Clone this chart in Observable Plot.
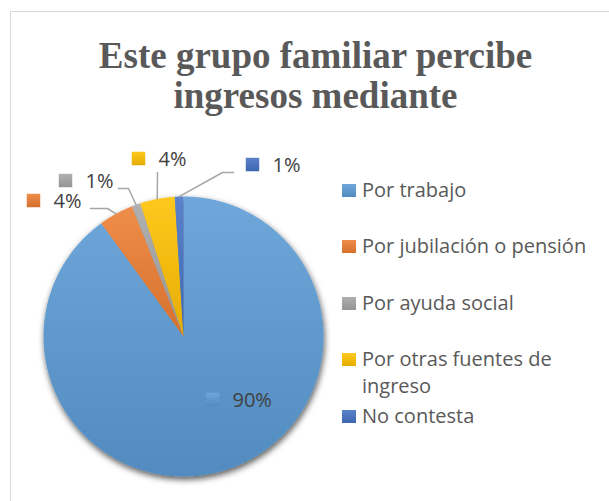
<!DOCTYPE html>
<html>
<head>
<meta charset="utf-8">
<script src="https://cdn.jsdelivr.net/npm/d3@7"></script>
<script src="https://cdn.jsdelivr.net/npm/@observablehq/plot@0.6"></script>
<style>
html, body { margin: 0; padding: 0; background: #fff; overflow: hidden; }
#wrap { position: relative; width: 609px; height: 501px; overflow: hidden; background: #fff; }
#frame { position: absolute; left: 10px; top: 11px; width: 700px; height: 600px; border: 1.5px solid #d9d9d9; }
#chart { position: absolute; left: 0; top: 0; }
#title { position: absolute; left: 0; width: 631px; top: 36px; text-align: center;
  font-family: "Liberation Serif", "DejaVu Serif", serif; font-weight: bold; font-size: 37px;
  line-height: 40px; color: #595959; }
#legend { position: absolute; left: 342px; top: 0; width: 267px; height: 501px;
  font-family: "Open Sans", sans-serif; font-size: 20px; color: #595959; }
.row { position: absolute; left: 0; width: 263px; line-height: 27px; }
.row .key { position: absolute; left: 0; top: 8px; width: 14px; height: 13px; }
.row .lab { margin-left: 20px; }
</style>
</head>
<body>
<div id="wrap">
  <div id="frame"></div>
  <div id="chart"></div>
  <div id="title">Este grupo familiar percibe<br>ingresos mediante</div>
  <div id="legend"></div>
</div>
<script>
// ---- data ----
const categories = ["Por trabajo", "Por jubilación o pensión", "Por ayuda social", "Por otras fuentes de ingreso", "No contesta"];
const percents = [90, 4, 1, 4, 1];
const colors = ["#5b9bd5", "#ed7d31", "#a5a5a5", "#ffc000", "#4472c4"];

// ---- layout (pixels) ----
const W = 609, H = 501, R = 140, CX = 183, CY = 336;
const labelStartPx = [[232, 400], [53, 201], [85, 181], [158, 159], [272, 165]];
const leaderPx = [null, [90, 208, 107, 208], [118, 188, 128, 188], [157, 172, 157, 172], [233, 172, 222, 172]];
const ux = px => (px - CX) / R;
const uy = py => (CY - py) / R;

const arcs = d3.pie().sort(null).value(d => d)(percents);

// slice outlines in pie-radius units (y up), angles clockwise from 12 o'clock
const slicePts = [];
arcs.forEach((a, i) => {
  slicePts.push({cat: categories[i], x: 0, y: 0});
  const n = Math.max(2, Math.ceil((a.endAngle - a.startAngle) / (Math.PI / 360)));
  for (let k = 0; k <= n; k++) {
    const t = a.startAngle + (a.endAngle - a.startAngle) * k / n;
    slicePts.push({cat: categories[i], x: Math.sin(t), y: Math.cos(t)});
  }
});

const total = d3.sum(percents);
const labels = arcs.map((a, i) => ({
  cat: categories[i],
  text: Math.round(percents[i] / total * 100) + "%",
  x: ux(labelStartPx[i][0]),
  y: uy(labelStartPx[i][1])
}));

const leaderPts = [];
arcs.forEach((a, i) => {
  const L = leaderPx[i];
  if (!L) return;
  const mid = (a.startAngle + a.endAngle) / 2;
  leaderPts.push({cat: categories[i], x: ux(L[0]), y: uy(L[1])});
  leaderPts.push({cat: categories[i], x: ux(L[2]), y: uy(L[3])});
  leaderPts.push({cat: categories[i], x: Math.sin(mid), y: Math.cos(mid)});
});

const chart = Plot.plot({
  width: W, height: H,
  margin: 0,
  x: {domain: [ux(0), ux(W)], axis: null},
  y: {domain: [uy(H), uy(0)], axis: null},
  color: {domain: categories, range: colors},
  style: {background: "transparent", fontFamily: "Open Sans, sans-serif", overflow: "visible"},
  marks: [
    Plot.line(slicePts, {x: "x", y: "y", z: "cat", fill: "cat", stroke: "none", curve: "linear-closed"}),
    Plot.line(leaderPts, {x: "x", y: "y", z: "cat", stroke: "#a6a6a6", strokeWidth: 1.5}),
    Plot.dot(labels, {x: "x", y: "y", dx: -20, dy: -1, symbol: "square", r: 7.6, fill: "cat", stroke: "none"}),
    Plot.text(labels, {x: "x", y: "y", text: "text", textAnchor: "start", fill: "#404040", fontSize: 20})
  ]
});

// gradients + shadow
const ns = "http://www.w3.org/2000/svg";
const defs = document.createElementNS(ns, "defs");
const light = c => d3.interpolateRgb(c, "#fff")(0.12);
const dark = c => d3.color(c).darker(0.3).formatHex();
colors.forEach((c, i) => {
  const lg = document.createElementNS(ns, "linearGradient");
  lg.setAttribute("id", "grad" + i);
  lg.setAttribute("x1", "0"); lg.setAttribute("y1", "0");
  lg.setAttribute("x2", "0"); lg.setAttribute("y2", "1");
  const s0 = document.createElementNS(ns, "stop");
  s0.setAttribute("offset", "0"); s0.setAttribute("stop-color", light(c));
  const s1 = document.createElementNS(ns, "stop");
  s1.setAttribute("offset", "1"); s1.setAttribute("stop-color", dark(c));
  lg.appendChild(s0); lg.appendChild(s1);
  defs.appendChild(lg);
});
const filt = document.createElementNS(ns, "filter");
filt.setAttribute("id", "pieShadow");
filt.setAttribute("x", "-20%"); filt.setAttribute("y", "-20%");
filt.setAttribute("width", "140%"); filt.setAttribute("height", "140%");
const ds = document.createElementNS(ns, "feDropShadow");
ds.setAttribute("dx", "1"); ds.setAttribute("dy", "3");
ds.setAttribute("stdDeviation", "3");
ds.setAttribute("flood-color", "#000"); ds.setAttribute("flood-opacity", "0.65");
filt.appendChild(ds);
defs.appendChild(filt);
chart.insertBefore(defs, chart.firstChild);

chart.querySelectorAll("path").forEach(p => {
  const f = (p.getAttribute("fill") || "").toLowerCase();
  const i = colors.indexOf(f);
  if (i >= 0) p.setAttribute("fill", `url(#grad${i})`);
});
const pieG = chart.querySelector('g[aria-label="line"]');
if (pieG) pieG.setAttribute("filter", "url(#pieShadow)");

document.getElementById("chart").appendChild(chart);

// legend
const legend = document.getElementById("legend");
categories.forEach((c, i) => {
  const row = document.createElement("div");
  row.className = "row";
  row.style.top = (175.7 + i * 56.5) + "px";
  const key = document.createElement("span");
  key.className = "key";
  key.style.background = `linear-gradient(${light(colors[i])}, ${dark(colors[i])})`;
  const lab = document.createElement("div");
  lab.className = "lab";
  lab.textContent = c;
  row.appendChild(key);
  row.appendChild(lab);
  legend.appendChild(row);
});
</script>
</body>
</html>
